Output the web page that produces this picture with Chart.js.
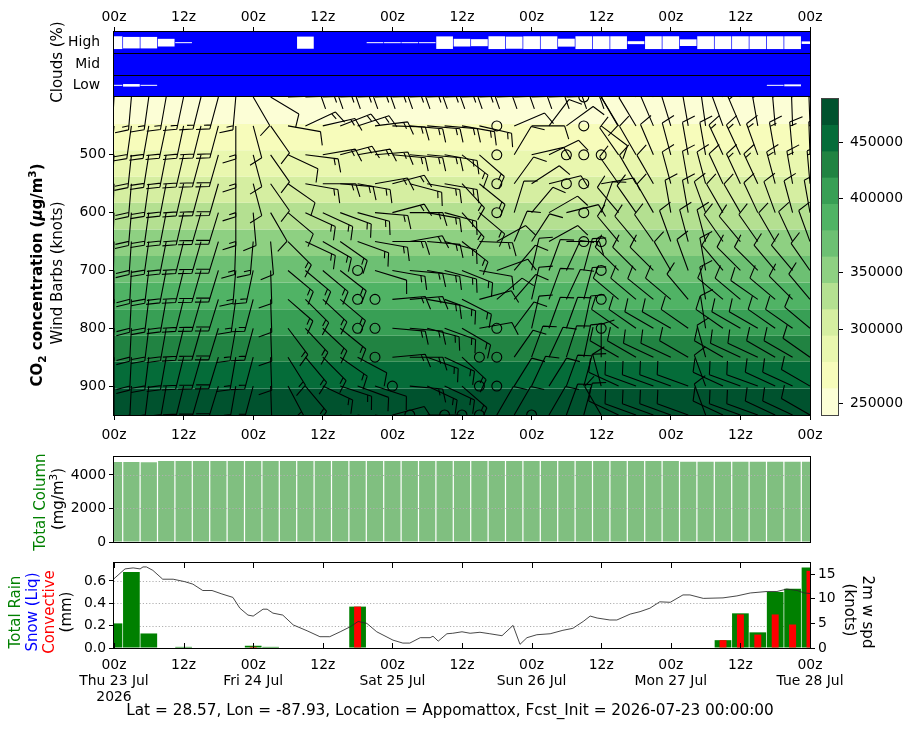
<!DOCTYPE html>
<html>
<head>
<meta charset="utf-8">
<title>CO2 meteogram - Appomattox</title>
<script src="https://cdn.jsdelivr.net/npm/chart.js@4.4.1/dist/chart.umd.min.js"></script>
<style>
  html, body { margin: 0; padding: 0; overflow: hidden; }
  body { width: 915px; height: 730px; position: relative; background: #fff; font-family: "DejaVu Sans", sans-serif; }
  canvas { position: absolute; left: 0; top: 0; }
  .lab { position: absolute; white-space: nowrap; font-size: 15px; line-height: 1; }
  sub, sup { font-size: 70%; line-height: 0; }
</style>
</head>
<body>
<canvas id="cloudChart" width="915" height="730"></canvas>
<canvas id="co2Chart" width="915" height="730"></canvas>
<canvas id="cbarChart" width="915" height="730"></canvas>
<canvas id="colChart" width="915" height="730"></canvas>
<canvas id="rainChart" width="915" height="730"></canvas>
<script>
Chart.defaults.font.family = '"DejaVu Sans", sans-serif';
Chart.defaults.font.size = 13.9;
Chart.defaults.color = '#000';
Chart.defaults.animation = false;
Chart.defaults.plugins.legend.display = false;
Chart.defaults.plugins.tooltip.enabled = false;

// forecast hours (3-hourly, 00z Thu 23 Jul .. 00z Tue 28 Jul)
var hours = [0,3,6,9,12,15,18,21,24,27,30,33,36,39,42,45,48,51,54,57,60,63,66,69,72,75,78,81,84,87,90,93,96,99,102,105,108,111,114,117,120];
var dayNames = { 0: ['Thu 23 Jul', '2026'], 24: ['Fri 24 Jul'], 48: ['Sat 25 Jul'], 72: ['Sun 26 Jul'], 96: ['Mon 27 Jul'], 120: ['Tue 28 Jul'] };

// clouds (%)
var cloudRows = ['Low', 'Mid', 'High'];
var cloudHigh = [100,90,90,60,8,0,0,0,0,0, 0,95,0,0,0,8,8,8,8,98, 60,55,100,95,100,100,62,100,100,100, 23,100,100,52,100,100,100,100,100,100,20];
var cloudMid  = [0,0,0,0,0,0,0,0,0,0, 0,0,0,0,0,0,0,0,0,0, 0,0,0,0,0,0,0,0,0,0, 0,0,0,0,0,0,0,0,0,0,0];
var cloudLow  = [8,20,8,0,0,0,0,0,0,0, 0,0,0,0,0,0,0,0,0,0, 0,0,0,0,0,0,0,0,0,0, 0,0,0,0,0,0,0,0,8,15,0];

// CO2 concentration bands and colorbar levels
var levels = [400,450,500,550,600,650,700,750,800,850,900,950];
var pressTicks = [500,600,700,800,900];
var bandEdges = [400,446,492,538,583,629,675,721,767,813,858,904,950];
var co2Levels = [240000,262000,277000,294000,317000,341000,363000,380000,395000,416000,442000,466000,490000];
var co2Ticks = [250000,300000,350000,400000,450000];

// wind barbs: direction (deg, from) and speed (knots), one row per level, 41 columns
var windDir = [
  [183,185,188,190,192,194,195,185,150,121, 88,88,88,88,88,88,88,88,88,88, 88,88,88,88,88,88,88,0,150, 340,340,345,350,350,355,345,345,350,355,358,358],
  [185,188,190,192,192,194,195,180,165,145, 100,65,77,69,72,83,92,95,95,95, 100,103,0,67,90,37,54,0,127, 329,329,337,343,350,352,340,337,350,355,358,358],
  [183,186,189,191,193,195,196,180,165,145, 115,97,80,75,80,85,95,95,95,100, 128,131,0,31,77,64,0,0,0, 325,330,337,345,350,350,335,335,340,350,355,358],
  [182,185,188,191,193,195,196,180,165,145, 125,100,90,95,100,80,75,105,100,100, 137,129,0,36,57,76,0,0,80, 325,330,330,345,350,345,335,335,335,345,350,355],
  [182,185,188,191,193,196,197,180,175,150, 130,115,115,110,105,95,75,90,100,105, 138,130,0,17,40,60,76,0,20, 320,325,330,350,350,340,330,330,335,340,345,350],
  [181,184,188,191,194,196,197,182,185,175, 135,115,120,125,110,100,90,80,95,105, 128,92,61,23,33,61,90,0,0, 320,320,325,340,345,345,325,320,325,330,335,340],
  [180,183,187,191,194,196,197,185,192,178, 130,130,130,128,0,107,100,95,100,105, 112,100,70,40,13,20,25,15,0, 315,315,315,330,340,350,320,315,315,320,320,325],
  [180,183,187,190,194,196,197,188,195,178, 131,135,133,130,0,0,85,85,100,110, 117,75,50,41,13,20,25,15,0, 310,310,309,310,320,350,310,310,305,310,315,320],
  [180,183,187,190,194,196,197,190,195,178, 143,137,133,129,0,0,95,95,105,110, 120,80,0,37,13,20,20,12,0, 305,305,300,300,305,351,305,300,300,305,305,310],
  [180,183,187,190,194,196,197,190,195,178, 148,140,135,125,118,0,85,90,110,115, 133,0,0,35,20,25,18,12,360, 300,300,295,295,300,345,300,295,295,300,300,305],
  [180,183,187,190,194,196,197,190,195,178, 152,140,115,108,110,108,0,95,115,115, 131,0,0,32,25,32,20,15,345, 295,290,290,290,290,340,295,290,290,295,295,300],
  [180,183,187,190,194,196,197,190,195,178, 152,145,110,105,100,100,75,0,90,0, 0,0,30,30,0,30,20,15,330, 295,290,290,290,290,340,295,290,290,295,295,300]
];
var windSpd = [
  [15,15,15,15,15,15,15,15,10,10, 10,15,15,15,15,15,15,15,15,15, 15,10,10,10,10,10,10,0,10, 10,10,10,10,10,10,15,15,15,15,15,15],
  [15,20,20,20,20,20,20,15,10,10, 10,15,15,15,15,15,15,15,15,15, 15,15,0,10,10,10,10,0,10, 10,10,10,10,10,10,10,15,15,15,15,15],
  [20,20,20,20,20,20,20,15,10,10, 10,15,15,15,15,15,15,15,15,15, 15,15,0,10,10,10,0,0,0, 10,10,10,10,10,10,15,15,15,15,15,15],
  [20,20,20,20,20,20,20,15,10,10, 10,15,15,15,15,15,15,15,15,15, 15,15,0,10,10,10,0,0,10, 10,10,10,10,10,10,10,15,15,15,15,15],
  [20,20,20,20,20,20,20,15,10,10, 10,15,15,15,15,15,15,15,15,15, 15,15,0,10,10,10,10,0,10, 10,10,10,10,10,10,10,10,10,10,10,10],
  [20,20,20,20,20,20,20,15,15,10, 15,15,15,15,15,15,15,15,15,15, 15,15,10,10,10,10,10,0,0, 10,10,10,10,10,10,10,10,10,10,10,10],
  [20,20,20,20,20,20,20,15,15,10, 15,15,15,15,0,10,15,15,15,15, 15,10,10,10,10,10,10,10,0, 10,10,10,10,10,10,10,10,10,10,10,10],
  [20,20,20,20,20,20,20,15,15,10, 15,15,15,15,0,0,15,15,15,15, 15,10,10,10,10,10,10,10,0, 10,10,10,10,10,10,10,10,10,10,10,10],
  [20,20,20,20,20,20,20,15,15,10, 15,15,15,15,0,0,15,15,15,15, 15,10,0,10,10,10,10,10,0, 10,10,10,10,10,10,10,10,10,10,10,10],
  [20,20,20,20,20,20,20,15,15,10, 15,15,15,15,10,0,15,15,15,15, 15,0,0,10,10,10,10,10,10, 10,10,10,10,10,10,10,10,10,10,10,10],
  [20,20,20,20,20,20,20,15,15,10, 15,15,15,15,10,10,0,15,15,15, 15,0,0,10,10,10,10,10,10, 10,10,10,10,10,10,10,10,10,10,10,10],
  [20,20,20,20,20,20,20,15,15,10, 15,15,15,15,10,10,10,0,10,0, 0,0,10,10,0,10,10,10,10, 10,10,10,10,10,10,10,10,10,10,10,10]
];

// total column (mg/m3)
var totalColumn = [4770,4770,4760,4830,4830,4830,4830,4830,4830,4830, 4830,4830,4830,4830,4830,4830,4830,4830,4830,4830, 4830,4830,4830,4830,4830,4830,4830,4830,4830,4830, 4830,4830,4830,4780,4780,4780,4780,4780,4780,4780,4780];

// precipitation (mm) and 2m wind speed (knots)
var totalRain = [0.22,0.68,0.13,0,0.01,0,0,0,0.02,0.01, 0,0,0,0,0.37,0,0,0,0,0, 0,0,0,0,0,0,0,0,0,0, 0,0,0,0,0,0.07,0.31,0.14,0.50,0.53,0.72];
var snowLiq   = [0,0,0,0,0,0,0,0,0,0, 0,0,0,0,0,0,0,0,0,0, 0,0,0,0,0,0,0,0,0,0, 0,0,0,0,0,0,0,0,0,0,0];
var convRain  = [0,0,0,0,0,0,0,0,0.01,0, 0,0,0,0,0.37,0,0,0,0,0, 0,0,0,0,0,0,0,0,0,0, 0,0,0,0,0,0.07,0.30,0.12,0.30,0.21,0.69];
var windHours = [0,1.9,3.3,4.5,5,5.6,6.7,8.4,10.2,12.2, 13.6,15.3,16.9,18.6,20.5,21.7,23.1,24,25.7,26.4, 27.4,29.1,30.9,33.3,35.5,37.2,39,40.7,42.1,43.6, 45.3,48.1,49.8,51,52.8,54.5,55,55.9,57.4,58.4, 60,61.4,63.1,64.8,66.9,68.8,70,71.2,72.9,75.2, 77.4,79.1,80.9,82.1,83.3,85.5,86.7,89,90.7,92.4, 94.1,95.9,98.1,99.3,101.6,105,107.4,109.7,112.6,114.3, 116,117.8,119,120];
var windKnots = [14.1,16.1,16.3,16.1,16.5,16.5,15.8,14.0,14.0,13.5, 13.0,11.7,11.7,11.0,10.3,8.1,6.7,6.5,7.9,7.9, 7.1,6.7,4.7,3.5,2.3,2.3,3.3,4.3,5.4,5.0, 3.3,1.6,1.0,1.0,2.1,2.1,2.4,1.4,2.9,3.0, 3.3,3.0,3.2,2.9,2.5,4.6,0.75,2.1,2.7,2.9, 3.6,4.0,5.4,6.5,6.1,5.7,5.7,6.9,7.4,8.1, 9.4,9.3,10.8,10.8,10.1,10.2,10.6,11.2,11.5,11.5, 12.0,11.7,11.2,11.1];

// ---- helpers ----
var ylgn = ['#ffffe5','#f7fcb9','#d9f0a3','#addd8e','#78c679','#41ab5d','#238443','#006837','#004529'];
function hex(h) { return [parseInt(h.substr(1,2),16), parseInt(h.substr(3,2),16), parseInt(h.substr(5,2),16)]; }
function cmap(t) {
  var p = Math.max(0, Math.min(1, t)) * (ylgn.length - 1);
  var i = Math.min(Math.floor(p), ylgn.length - 2), f = p - i;
  var a = hex(ylgn[i]), b = hex(ylgn[i + 1]);
  return 'rgb(' + [0,1,2].map(function(k){ return Math.round(a[k] + (b[k] - a[k]) * f); }).join(',') + ')';
}
var nBands = co2Levels.length - 1;
var bandColors = [];
for (var j = 0; j < nBands; j++) {
  var mid = (co2Levels[j] + co2Levels[j + 1]) / 2;
  bandColors.push(cmap((mid - co2Levels[0]) / (co2Levels[nBands] - co2Levels[0])));
}
function co2Pos(v) {
  for (var j = 0; j < nBands; j++) {
    if (v >= co2Levels[j] && v <= co2Levels[j + 1]) return j + (v - co2Levels[j]) / (co2Levels[j + 1] - co2Levels[j]);
  }
  return 0;
}
function pts(xs, ys) { return xs.map(function(x, i){ return { x: x, y: ys[i] }; }); }

function timeAxis(extra) {
  var ax = {
    type: 'linear', min: 0, max: 120, offset: false,
    ticks: { stepSize: 12, autoSkip: false, maxRotation: 0, padding: 3,
             callback: function(v){ return v % 24 === 0 ? '00z' : '12z'; } },
    grid: { drawOnChartArea: false, drawTicks: true, tickLength: 5, color: '#000', offset: false },
    border: { display: false }
  };
  return Object.assign(ax, extra || {});
}
function leftAxis(extra) {
  var ax = {
    position: 'left',
    grid: { drawOnChartArea: false, drawTicks: true, tickLength: 5, color: '#000' },
    border: { display: false },
    afterFit: function(s){ s.width = 114; }
  };
  return Object.assign(ax, extra || {});
}
function frame(chart, color) {
  var a = chart.chartArea, ctx = chart.ctx;
  ctx.save();
  ctx.strokeStyle = color || '#000';
  ctx.lineWidth = 1;
  ctx.strokeRect(Math.round(a.left) - 0.5, Math.round(a.top) - 0.5, Math.round(a.right - a.left) + 1, Math.round(a.bottom - a.top) + 1);
  ctx.restore();
}
function dotted(chart, scaleId, values) {
  var a = chart.chartArea, ctx = chart.ctx, s = chart.scales[scaleId];
  ctx.save();
  ctx.strokeStyle = '#b0b0b0';
  ctx.lineWidth = 1;
  ctx.setLineDash([1.2, 2]);
  values.forEach(function(v){
    var y = Math.round(s.getPixelForValue(v)) + 0.5;
    ctx.beginPath(); ctx.moveTo(a.left, y); ctx.lineTo(a.right, y); ctx.stroke();
  });
  ctx.restore();
}
function drawBarb(ctx, x0, y0, dir, spd) {
  var L = 33, H = 0.4 * L, W = 0.25 * L, SP = 0.125 * L;
  var n = Math.round(spd / 5) * 5;
  if (n === 0) {
    ctx.beginPath(); ctx.arc(x0, y0, 0.15 * L, 0, 2 * Math.PI); ctx.stroke();
    return;
  }
  var r = dir * Math.PI / 180;
  var sx = Math.sin(r), sy = -Math.cos(r), fx = -sy, fy = sx;
  function at(d) { return [x0 + sx * d, y0 + sy * d]; }
  ctx.beginPath();
  ctx.moveTo(x0, y0);
  var e = at(L); ctx.lineTo(e[0], e[1]);
  var flags = Math.floor(n / 50), full = Math.floor((n % 50) / 10), half = (n % 10) >= 5;
  var off = L, p, q;
  for (var f = 0; f < flags; f++) {
    p = at(off); q = at(off - W / 2);
    ctx.moveTo(p[0], p[1]); ctx.lineTo(q[0] + fx * H, q[1] + fy * H);
    q = at(off - W); ctx.lineTo(q[0], q[1]);
    off -= W + SP;
  }
  for (var b = 0; b < full; b++) {
    p = at(off); q = at(off + W / 2);
    ctx.moveTo(p[0], p[1]); ctx.lineTo(q[0] + fx * H, q[1] + fy * H);
    off -= SP;
  }
  if (half) {
    if (off === L) off -= 1.5 * SP;
    p = at(off); q = at(off + W / 4);
    ctx.moveTo(p[0], p[1]); ctx.lineTo(q[0] + fx * H / 2, q[1] + fy * H / 2);
  }
  ctx.stroke();
}

// ---- clouds panel ----
function cloudBars(vals, row) {
  return hours.map(function(h, i){ var d = vals[i] * 0.003; return { x: h, y: [row + 0.5 - d, row + 0.5 + d] }; });
}
new Chart(document.getElementById('cloudChart'), {
  type: 'bar',
  data: { datasets: [
    { data: cloudBars(cloudHigh, 2), backgroundColor: '#fff', grouped: false, barPercentage: 0.96, categoryPercentage: 1 },
    { data: cloudBars(cloudMid, 1), backgroundColor: '#fff', grouped: false, barPercentage: 0.96, categoryPercentage: 1 },
    { data: cloudBars(cloudLow, 0), backgroundColor: '#fff', grouped: false, barPercentage: 0.96, categoryPercentage: 1 }
  ] },
  options: {
    responsive: false, devicePixelRatio: 1,
    layout: { padding: { left: 0, right: 105, top: 0, bottom: 634 } },
    scales: {
      x: timeAxis({ position: 'top',
                    ticks: { stepSize: 12, autoSkip: false, maxRotation: 0, padding: 1,
                             callback: function(v){ return v % 24 === 0 ? '00z' : '12z'; } },
                    afterFit: function(s){ s.height = 32; } }),
      y: leftAxis({ min: 0, max: 3,
        grid: { display: false },
        ticks: { padding: 6, callback: function(v){ return cloudRows[Math.floor(v)]; } },
        afterBuildTicks: function(s){ s.ticks = [{ value: 0.5 }, { value: 1.5 }, { value: 2.5 }]; } })
    }
  },
  plugins: [{
    id: 'cloudBg',
    beforeDatasetsDraw: function(chart) {
      var a = chart.chartArea, ctx = chart.ctx, ys = chart.scales.y;
      ctx.save();
      ctx.fillStyle = '#0000ff';
      ctx.fillRect(a.left, a.top, a.right - a.left, a.bottom - a.top);
      ctx.strokeStyle = '#000'; ctx.lineWidth = 1;
      [1, 2].forEach(function(v){
        var y = Math.round(ys.getPixelForValue(v)) + 0.5;
        ctx.beginPath(); ctx.moveTo(a.left, y); ctx.lineTo(a.right, y); ctx.stroke();
      });
      ctx.restore();
    },
    afterDraw: function(chart){ frame(chart); }
  }]
});

// ---- CO2 + wind barbs panel ----
var bandSets = bandEdges.map(function(p, j){
  return {
    data: [{ x: 0, y: p }, { x: 120, y: p }],
    borderWidth: 0, pointRadius: 0,
    fill: j === 0 ? false : '-1',
    backgroundColor: j === 0 ? 'rgba(0,0,0,0)' : bandColors[j - 1]
  };
});
new Chart(document.getElementById('co2Chart'), {
  type: 'line',
  data: { datasets: bandSets },
  options: {
    responsive: false, devicePixelRatio: 1,
    layout: { padding: { left: 0, right: 105, top: 97, bottom: 285 } },
    scales: {
      x: timeAxis({ ticks: { stepSize: 12, autoSkip: false, maxRotation: 0, padding: 7,
                             callback: function(v){ return v % 24 === 0 ? '00z' : '12z'; } },
                    afterFit: function(s){ s.height = 30; } }),
      y: leftAxis({ type: 'linear', min: 400, max: 950, reverse: true,
        ticks: { padding: 3 },
        afterBuildTicks: function(s){ s.ticks = pressTicks.map(function(v){ return { value: v }; }); } })
    }
  },
  plugins: [{
    id: 'barbs',
    afterDatasetsDraw: function(chart) {
      var a = chart.chartArea, ctx = chart.ctx, xs = chart.scales.x, ys = chart.scales.y;
      ctx.save();
      ctx.beginPath(); ctx.rect(a.left, a.top, a.right - a.left, a.bottom - a.top); ctx.clip();
      ctx.strokeStyle = '#000'; ctx.lineWidth = 1.1; ctx.lineCap = 'butt';
      levels.forEach(function(p, k){
        hours.forEach(function(h, i){
          drawBarb(ctx, xs.getPixelForValue(h), ys.getPixelForValue(p), windDir[k][i], windSpd[k][i]);
        });
      });
      ctx.restore();
    },
    afterDraw: function(chart){ frame(chart); }
  }]
});

// ---- colorbar ----
new Chart(document.getElementById('cbarChart'), {
  type: 'bar',
  data: { labels: ['co2'], datasets: bandColors.map(function(c){
    return { data: [1], backgroundColor: c, borderWidth: 0, barPercentage: 1, categoryPercentage: 1 };
  }) },
  options: {
    responsive: false, devicePixelRatio: 1,
    layout: { padding: { left: 822, right: 0, top: 99, bottom: 315 } },
    scales: {
      x: { stacked: true, display: false },
      y: { stacked: true, position: 'right', min: 0, max: nBands,
        grid: { drawOnChartArea: false, drawTicks: true, tickLength: 5, color: '#000' },
        border: { display: false },
        ticks: { padding: 7, callback: function(v, i){ return String(co2Ticks[i]); } },
        afterBuildTicks: function(s){ s.ticks = co2Ticks.map(function(v){ return { value: co2Pos(v) }; }); },
        afterFit: function(s){ s.width = 77; } }
    }
  },
  plugins: [{ id: 'cbFrame', afterDraw: function(chart){ frame(chart, '#444'); } }]
});

// ---- total column panel ----
new Chart(document.getElementById('colChart'), {
  type: 'bar',
  data: { datasets: [{ data: pts(hours, totalColumn), backgroundColor: 'rgb(128,191,128)', borderWidth: 0, barPercentage: 0.93, categoryPercentage: 1 }] },
  options: {
    responsive: false, devicePixelRatio: 1,
    layout: { padding: { left: 0, right: 105, top: 457, bottom: 188 } },
    scales: {
      x: { type: 'linear', min: 0, max: 120, offset: false, display: false },
      y: leftAxis({ min: 0, max: 5070, ticks: { padding: 3, callback: function(v){ return String(v); } },
        afterBuildTicks: function(s){ s.ticks = [{ value: 0 }, { value: 2000 }, { value: 4000 }]; } })
    }
  },
  plugins: [{
    id: 'colGrid',
    afterDatasetsDraw: function(chart){ dotted(chart, 'y', [2000, 4000]); },
    afterDraw: function(chart){ frame(chart); }
  }]
});

// ---- precipitation + 2m wind panel ----
new Chart(document.getElementById('rainChart'), {
  type: 'bar',
  data: { datasets: [
    { type: 'line', data: pts(windHours, windKnots), yAxisID: 'y2', borderColor: 'rgba(40,40,40,0.85)', borderWidth: 1, pointRadius: 0, tension: 0, order: -1 },
    { data: pts(hours, convRain), backgroundColor: '#ff0000', grouped: false, barPercentage: 0.4, categoryPercentage: 1, order: 0 },
    { data: pts(hours, snowLiq), backgroundColor: '#0000ff', grouped: false, barPercentage: 0.7, categoryPercentage: 1, order: 1 },
    { data: pts(hours, totalRain), backgroundColor: '#008000', grouped: false, barPercentage: 0.96, categoryPercentage: 1, order: 2 }
  ] },
  options: {
    responsive: false, devicePixelRatio: 1,
    layout: { padding: { left: 0, right: 65, top: 563, bottom: 22 } },
    scales: {
      x: timeAxis({
        grid: { display: false, offset: false },
        ticks: { stepSize: 12, autoSkip: false, maxRotation: 0, padding: 1, font: { lineHeight: 1.15 },
                 callback: function(v){ var z = v % 24 === 0 ? '00z' : '12z'; return dayNames[v] ? [z].concat(dayNames[v]) : z; } },
        afterFit: function(s){ s.height = 60; } }),
      y: leftAxis({ min: 0, max: 0.76, ticks: { padding: 3, callback: function(v){ return v.toFixed(1); } },
        afterBuildTicks: function(s){ s.ticks = [0, 0.2, 0.4, 0.6].map(function(v){ return { value: v }; }); } }),
      y2: { position: 'right', min: 0, max: 17.3,
        grid: { drawOnChartArea: false, drawTicks: true, tickLength: 5, color: '#000' },
        border: { display: false },
        ticks: { padding: 3 },
        afterBuildTicks: function(s){ s.ticks = [0, 5, 10, 15].map(function(v){ return { value: v }; }); },
        afterFit: function(s){ s.width = 40; } }
    }
  },
  plugins: [{
    id: 'rainExtras',
    beforeDatasetsDraw: function(chart){ dotted(chart, 'y', [0.2, 0.4, 0.6]); },
    afterDraw: function(chart) {
      var a = chart.chartArea, ctx = chart.ctx, xs = chart.scales.x;
      ctx.save();
      ctx.strokeStyle = '#000'; ctx.lineWidth = 1;
      xs.ticks.forEach(function(t){
        var x = Math.round(xs.getPixelForValue(t.value)) + 0.5;
        ctx.beginPath();
        ctx.moveTo(x, a.top); ctx.lineTo(x, a.top + 5);
        ctx.moveTo(x, a.bottom); ctx.lineTo(x, a.bottom - 5);
        ctx.stroke();
      });
      ctx.restore();
      frame(chart);
    }
  }]
});

// ---- axis titles and footer (real text) ----
function label(html, cx, cy, rot, color, extra) {
  var d = document.createElement('div');
  d.className = 'lab';
  d.innerHTML = html;
  d.style.left = cx + 'px';
  d.style.top = cy + 'px';
  d.style.color = color || '#000';
  d.style.transform = 'translate(-50%,-50%) rotate(' + rot + 'deg)';
  if (extra) d.style.cssText += extra;
  document.body.appendChild(d);
}
label('Clouds (%)', 57, 62, -90);
label('<b>CO<sub>2</sub> concentration (<i>&mu;</i>g/m<sup>3</sup>)</b>', 37, 275, -90);
label('Wind Barbs (knots)', 57, 273, -90);
label('Total Column', 40, 502, -90, 'green');
label('(mg/m<sup>3</sup>)', 58, 499, -90);
label('Total Rain', 15, 612, -90, 'green');
label('Snow (Liq)', 32, 612, -90, 'blue');
label('Convective', 49, 612, -90, 'red');
label('(mm)', 66, 612, -90);
label('2m w spd', 867, 612, 90);
label('(knots)', 849, 610, 90);
label('Lat = 28.57, Lon = -87.93, Location = Appomattox, Fcst_Init = 2026-07-23 00:00:00', 450, 711, 0, '#000', 'font-size:15.3px;');
</script>
</body>
</html>
